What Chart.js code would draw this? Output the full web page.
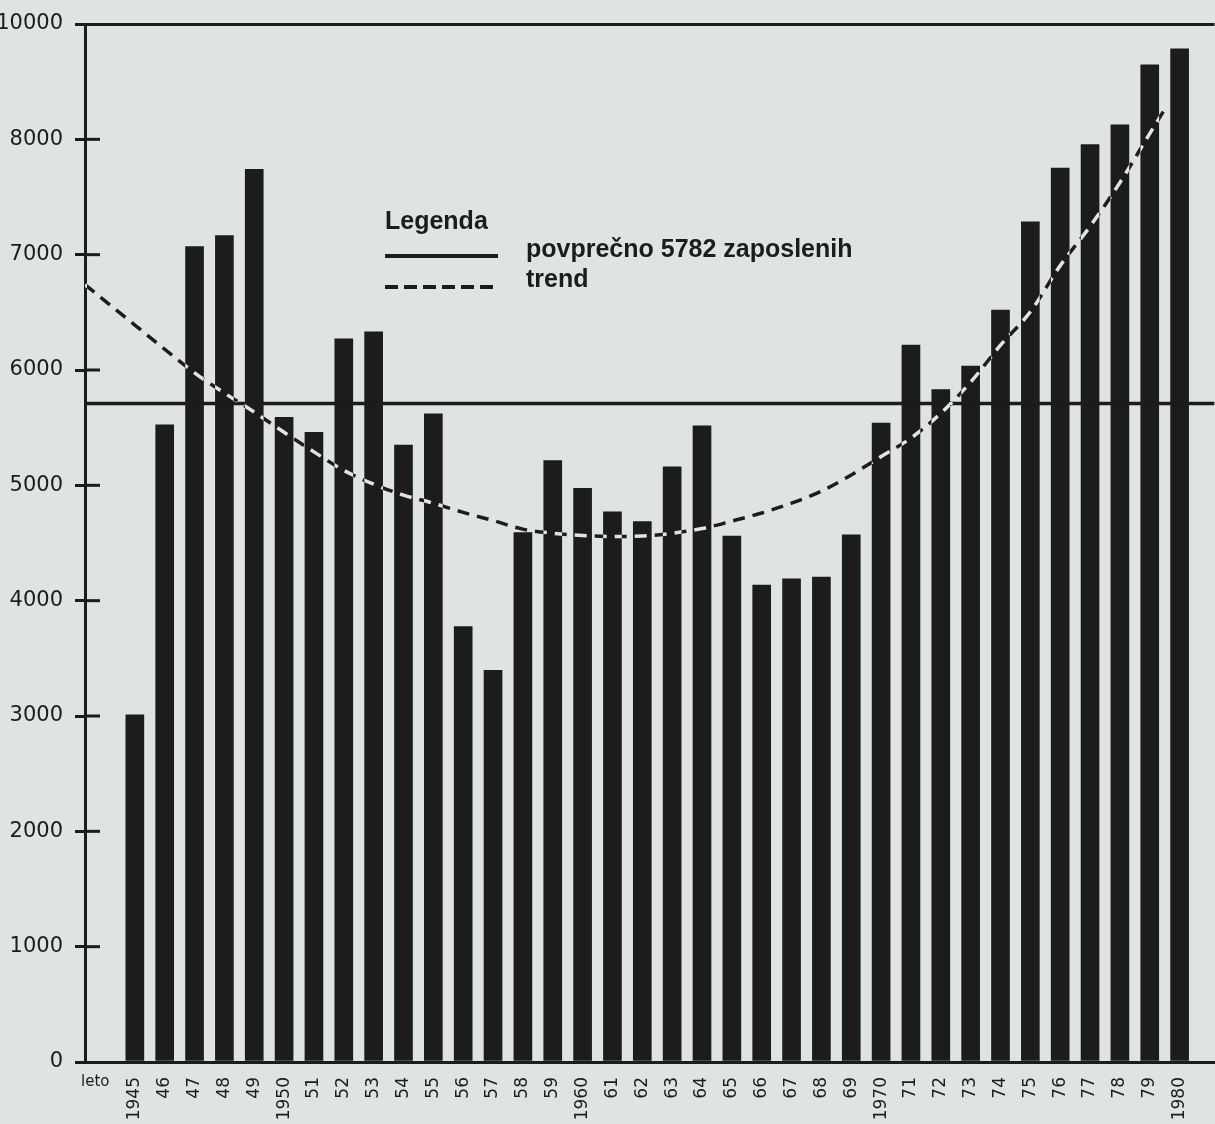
<!DOCTYPE html>
<html>
<head>
<meta charset="utf-8">
<script src="https://cdn.jsdelivr.net/npm/chart.js@4"></script>
<style>
  html, body { margin: 0; padding: 0; background: #dde4e2; }
  #wrap { width: 1215px; height: 1124px; position: relative; }
</style>
</head>
<body>
<div id="wrap"><canvas id="chart"></canvas></div>
<script>
// leta in stevilo zaposlenih (odcitano s slike)
const years = [1945, 1946, 1947, 1948, 1949, 1950, 1951, 1952, 1953, 1954, 1955, 1956,
    1957, 1958, 1959, 1960, 1961, 1962, 1963, 1964, 1965, 1966, 1967, 1968,
    1969, 1970, 1971, 1972, 1973, 1974, 1975, 1976, 1977, 1978, 1979, 1980];
const employees = [3010, 5525, 7070, 7165, 7740, 5590, 5460, 6270, 6330, 5350, 5620, 3775,
    3395, 4590, 5215, 4975, 4770, 4685, 5160, 5515, 4560, 4135, 4190, 4205,
    4570, 5540, 6215, 5830, 6035, 6520, 7285, 7750, 7955, 8125, 8645, 8785];

// trend (crtkana krivulja), odcitano po letih
const trendYears = [1943.33, 1945, 1946, 1947, 1948, 1949, 1950, 1951, 1952, 1953, 1954, 1955,
    1956, 1957, 1958, 1959, 1960, 1961, 1962, 1963, 1964, 1965, 1966, 1967,
    1968, 1969, 1970, 1971, 1972, 1973, 1974, 1975, 1976, 1977, 1978, 1979, 1979.5];
const trendValues = [6740, 6390, 6180, 5975, 5800, 5635, 5460, 5290, 5130, 5010, 4915, 4845,
    4765, 4695, 4620, 4585, 4565, 4557, 4560, 4585, 4625, 4690, 4760, 4845,
    4950, 5090, 5250, 5410, 5625, 5895, 6215, 6505, 6905, 7245, 7625, 8050, 8260];

// povprecje (crta na sliki)
const averageValue = 5710;
const averageLabel = 'povprečno 5782 zaposlenih';

const yTicks = [0, 1000, 2000, 3000, 4000, 5000, 6000, 7000, 8000, 9000];
const yTopLabel = '10000';

const X_MIN = 1943.33, X_MAX = 1981.17;
const INK = '#1c1b1d';
const PAPER = '#dde4e2';

const bgPlugin = {
    id: 'paper',
    beforeDraw(chart) {
        const ctx = chart.ctx;
        ctx.save();
        ctx.fillStyle = PAPER;
        ctx.fillRect(0, 0, chart.width, chart.height);
        ctx.restore();
    }
};

// crtkana krivulja se nad stolpci obrne v svetlo
const trendInvertPlugin = {
    id: 'trendInvert',
    beforeDatasetDraw(chart, args) {
        if (chart.data.datasets[args.index].id === 'trend') {
            chart.ctx.save();
            chart.ctx.globalCompositeOperation = 'difference';
        }
    },
    afterDatasetDraw(chart, args) {
        if (chart.data.datasets[args.index].id === 'trend') {
            chart.ctx.restore();
        }
    }
};

const decorPlugin = {
    id: 'decor',
    afterDraw(chart) {
        const ctx = chart.ctx;
        const y = chart.scales.y;
        const left = chart.chartArea.left;
        ctx.save();
        // notranji del oznak na osi y
        ctx.strokeStyle = INK;
        ctx.lineWidth = 3;
        y.ticks.forEach(t => {
            if (t.value === 0 || t.value === 9000) return;
            const py = y.getPixelForValue(t.value);
            ctx.beginPath();
            ctx.moveTo(left, py);
            ctx.lineTo(left + 15, py);
            ctx.stroke();
        });

        // "leto"
        ctx.fillStyle = INK;
        ctx.font = '15px "DejaVu Sans"';
        ctx.textBaseline = 'middle';
        ctx.textAlign = 'left';
        ctx.fillText('leto', 81, 1082);

        // legenda
        ctx.font = 'bold 25px "Liberation Sans"';
        ctx.textBaseline = 'alphabetic';
        ctx.fillText('Legenda', 385, 229);
        ctx.fillText(averageLabel, 526, 257);
        ctx.fillText('trend', 526, 287);

        ctx.lineWidth = 4;
        ctx.beginPath();
        ctx.moveTo(385, 256);
        ctx.lineTo(498, 256);
        ctx.stroke();

        ctx.setLineDash([13, 6]);
        ctx.beginPath();
        ctx.moveTo(385, 287);
        ctx.lineTo(498, 287);
        ctx.stroke();
        ctx.restore();
    }
};

const ctx = document.getElementById('chart').getContext('2d');
new Chart(ctx, {
    data: {
        datasets: [
            {
                id: 'trend',
                type: 'line',
                data: trendYears.map((x, i) => ({ x: x, y: trendValues[i] })),
                borderColor: '#ffffff',
                borderWidth: 3.5,
                borderDash: [12, 8],
                pointRadius: 0,
                tension: 0.4,
                cubicInterpolationMode: 'monotone',
                order: 1
            },
            {
                id: 'avg',
                type: 'line',
                data: [{ x: X_MIN, y: averageValue }, { x: X_MAX, y: averageValue }],
                borderColor: INK,
                borderWidth: 3.5,
                pointRadius: 0,
                order: 2
            },
            {
                id: 'bars',
                type: 'bar',
                data: years.map((x, i) => ({ x: x, y: employees[i] })),
                backgroundColor: INK,
                borderWidth: 0,
                barThickness: 18,
                order: 3
            }
        ]
    },
    options: {
        responsive: true,
        maintainAspectRatio: false,
        animation: false,
        layout: { padding: { top: 24, right: 0, bottom: 0, left: 0 } },
        plugins: {
            legend: { display: false },
            tooltip: { enabled: false }
        },
        scales: {
            x: {
                type: 'linear',
                offset: false,
                min: X_MIN,
                max: X_MAX,
                afterBuildTicks(scale) {
                    scale.ticks = years.map(v => ({ value: v }));
                },
                afterFit(scale) { scale.height = 62; },
                grid: { drawOnChartArea: false, drawTicks: false, offset: false },
                border: { color: INK, width: 3 },
                ticks: {
                    autoSkip: false,
                    minRotation: 90,
                    maxRotation: 90,
                    padding: 15,
                    color: INK,
                    font: { family: '"DejaVu Sans"', size: 17 },
                    callback(v) {
                        return (v % 10 === 0 || v === 1945) ? String(v) : String(v).slice(2);
                    }
                }
            },
            y: {
                min: 0,
                max: 9000,
                afterBuildTicks(scale) {
                    scale.ticks = yTicks.map(v => ({ value: v }));
                },
                afterFit(scale) {
                    scale.width = 85;
                    scale.paddingTop = 0;
                    scale.paddingBottom = 0;
                },
                grid: {
                    color: c => c.tick && c.tick.value === 9000 ? INK : 'rgba(0,0,0,0)',
                    lineWidth: 3,
                    tickColor: INK,
                    tickWidth: 3,
                    tickLength: 10
                },
                border: { color: INK, width: 3 },
                ticks: {
                    padding: 12,
                    color: INK,
                    font: { family: '"DejaVu Sans"', size: 21 },
                    callback(v) { return v === 9000 ? yTopLabel : String(v); }
                }
            }
        }
    },
    plugins: [bgPlugin, trendInvertPlugin, decorPlugin]
});
</script>
</body>
</html>
